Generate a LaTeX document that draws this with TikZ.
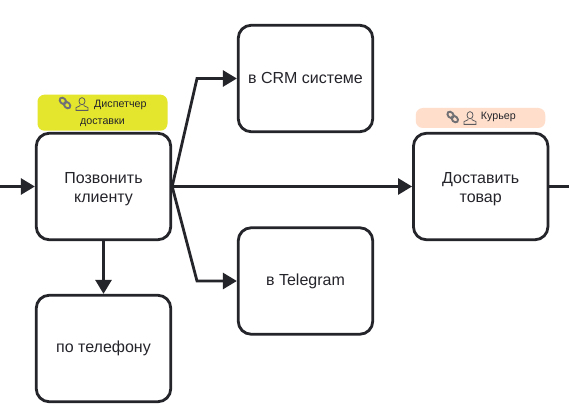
\documentclass[tikz,border=0pt]{standalone}
\usepackage{fontspec}
\setmainfont{Liberation Sans}
\usetikzlibrary{arrows.meta}
\definecolor{ink}{HTML}{24242B}
\definecolor{yel}{HTML}{E3E62C}
\definecolor{peach}{HTML}{FFDFCC}
\tikzset{x=1pt,y=-1pt,
 taskbox/.style={draw=ink,line width=2.8pt,rounded corners=13pt,fill=white,minimum width=134.5pt,minimum height=106.5pt,inner sep=2pt,align=center,font=\fontsize{16}{19.5}\selectfont,text=ink},
 tagbox/.style={rounded corners=7pt,inner sep=0pt},
 flow/.style={draw=ink,line width=2.8pt,-{Triangle[length=14pt,width=16pt]}},
 plain/.style={draw=ink,line width=2.8pt},
 taglabel/.style={font=\fontsize{10.7}{15}\selectfont,text=ink,inner sep=0pt},
 ico/.style={draw=ink!75,line width=.8pt},
}
\newcommand{\linkicon}[2]{%
 \begin{scope}[shift={(#1,#2)},rotate=-45]
  \draw[draw=ink!65,line width=1.9pt,fill=none] (-3,0) ellipse[x radius=3.6pt,y radius=2.7pt];
  \draw[draw=ink!65,line width=1.9pt,fill=none] (3,0) ellipse[x radius=3.6pt,y radius=2.7pt];
 \end{scope}}
\newcommand{\personicon}[2]{%
 \begin{scope}[shift={(#1,#2)}]
  \draw[ico,fill=none] (0,-2.8) ellipse[x radius=3pt,y radius=3.6pt];
  \draw[ico,fill=none] (-2,1) -- (-2,1.8) -- (-6,3.6) -- (-6,6.4) -- (6,6.4) -- (6,3.6) -- (2,1.8) -- (2,1);
 \end{scope}}
\begin{document}
\begin{tikzpicture}
\useasboundingbox (0,0) rectangle (569,414);
\fill[white] (0,0) rectangle (569,414);
\node[tagbox,fill=yel,minimum width=130pt,minimum height=36pt] (tagA) at (102.5,112.7) {};
\node[tagbox,fill=peach,minimum width=129.5pt,minimum height=20pt] (tagB) at (480.5,118) {};
\node[taskbox] (call) at (103.5,186.5) {\rule{0pt}{16pt}Позвонить\\клиенту};
\node[taskbox] (crm) at (305.5,78.5) {\raisebox{.8pt}{в CRM системе}};
\node[taskbox] (tg) at (305.5,281) {в Telegram};
\node[taskbox] (phone) at (103.5,348.5) {по телефону};
\node[taskbox] (deliver) at (480.7,186.5) {\rule{0pt}{16pt}Доставить\\товар};
\coordinate (inL) at (0,186.5);
\coordinate (outR) at (569,186.5);
\coordinate (up) at (197,78.5);
\coordinate (down) at (197,281);
\draw[flow] (inL) -- (call.west);
\draw[plain] (deliver.east) -- (outR);
\draw[flow] (call.east) -- (deliver.west);
\draw[flow] (call.east) -- (up) -- (crm.west);
\draw[flow] (call.east) -- (down) -- (tg.west);
\draw[flow] (call.south) -- (phone.north);
\linkicon{65}{103}
\personicon{82}{104}
\node[taglabel,anchor=west] (dispA) at (94,104.5) {Диспетчер};
\node[taglabel] (dispB) at (102.5,122.5) {доставки};
\linkicon{452.7}{117}
\personicon{470}{118}
\node[taglabel,anchor=west] (cour) at (480.7,117.2) {Курьер};
\end{tikzpicture}
\end{document}
